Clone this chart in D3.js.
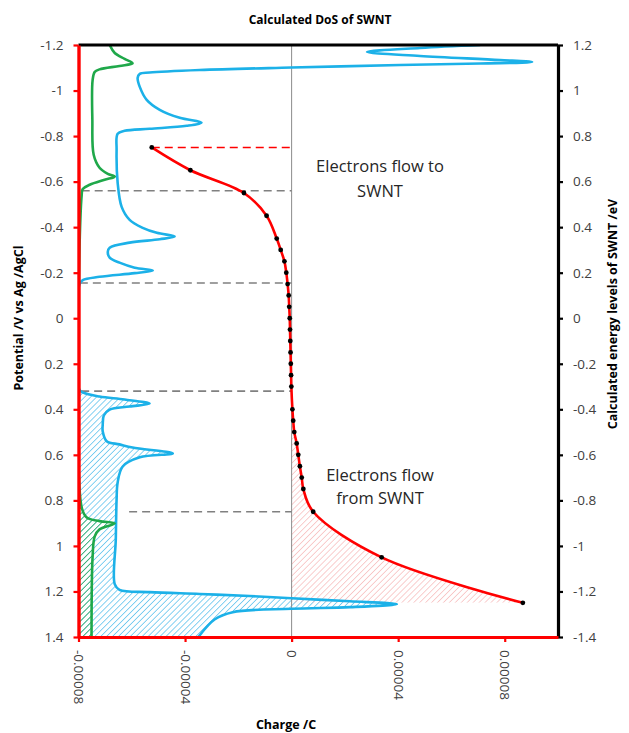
<!DOCTYPE html>
<html>
<head>
<meta charset="utf-8">
<script src="https://cdnjs.cloudflare.com/ajax/libs/d3/7.8.5/d3.min.js"></script>
<style>
  body { margin: 0; background: #fff; }
  text { font-family: "Open Sans", sans-serif; }
</style>
</head>
<body>
<script>
// axis ticks
var potTicks = [-1.2, -1, -0.8, -0.6, -0.4, -0.2, 0, 0.2, 0.4, 0.6, 0.8, 1, 1.2, 1.4];
var potLabels = ["-1.2", "-1", "-0.8", "-0.6", "-0.4", "-0.2", "0", "0.2", "0.4", "0.6", "0.8", "1", "1.2", "1.4"];
var energyLabels = ["1.2", "1", "0.8", "0.6", "0.4", "0.2", "0", "-0.2", "-0.4", "-0.6", "-0.8", "-1", "-1.2", "-1.4"];
var chargeTicks = [-0.00008, -0.00004, 0, 0.00004, 0.00008];
var chargeLabels = ["-0.00008", "-0.00004", "0", "0.00004", "0.00008"];

// measured charge (red, with dots)
var redPot = [-0.75, -0.65, -0.55, -0.45, -0.35, -0.30, -0.25, -0.20, -0.15, -0.10, -0.05, 0, 0.05, 0.10,
              0.15, 0.20, 0.25, 0.30, 0.40, 0.45, 0.50, 0.55, 0.60, 0.65, 0.70, 0.75, 0.85, 1.05, 1.25];
var redCharge = [-5.25e-5, -3.80e-5, -1.79e-5, -9.4e-6, -5.6e-6, -4.1e-6, -2.7e-6, -2.0e-6, -1.5e-6, -1.1e-6, -9e-7, -7e-7, -6e-7, -5e-7,
                 -4e-7, -3e-7, -2e-7, -1e-7, 3e-7, 6e-7, 1.0e-6, 1.9e-6, 2.5e-6, 3.1e-6, 3.8e-6, 4.4e-6, 8.1e-6, 3.38e-5, 8.68e-5];

// calculated DoS (blue)
var bluePot = [-1.200, -1.187, -1.169, -1.152, -1.134, -1.125, -1.119, -1.112, -1.101, -1.090, -1.079, -1.073, -1.055, -1.016,
               -0.959, -0.915, -0.880, -0.859, -0.845, -0.832, -0.823, -0.810, -0.739, -0.595, -0.489, -0.432, -0.397, -0.375,
               -0.359, -0.347, -0.332, -0.310, -0.292, -0.266, -0.244, -0.222, -0.210, -0.198, -0.182, -0.167, -0.147, 0.313,
               0.326, 0.344, 0.357, 0.375, 0.388, 0.401, 0.427, 0.467, 0.497, 0.540, 0.554, 0.568, 0.594, 0.611, 0.651, 0.721,
               0.796, 0.971, 1.168, 1.193, 1.203, 1.211, 1.220, 1.230, 1.243, 1.256, 1.269, 1.276, 1.291, 1.322, 1.400];
var blueDos = [7.08e-5, 4.82e-5, 2.83e-5, 4.82e-5, 7.83e-5, 9.03e-5, 7.08e-5, 4.07e-5, 0, -3.45e-5, -5.33e-5, -5.70e-5, -5.78e-5, -5.70e-5,
               -5.44e-5, -4.95e-5, -4.20e-5, -3.38e-5, -3.94e-5, -5.33e-5, -6.27e-5, -6.53e-5, -6.57e-5, -6.53e-5, -6.38e-5, -6.08e-5, -5.59e-5, -5.06e-5,
               -4.39e-5, -4.95e-5, -6.08e-5, -6.83e-5, -6.90e-5, -6.83e-5, -6.46e-5, -5.89e-5, -5.21e-5, -5.89e-5, -7.21e-5, -7.84e-5, -7.97e-5, -7.97e-5,
               -7.84e-5, -7.21e-5, -6.27e-5, -5.33e-5, -6.08e-5, -6.83e-5, -7.05e-5, -7.09e-5, -7.09e-5, -6.94e-5, -6.46e-5, -5.97e-5, -4.46e-5, -5.70e-5, -6.34e-5, -6.53e-5,
               -6.57e-5, -6.60e-5, -6.64e-5, -6.46e-5, -5.33e-5, -3.45e-5, -1.57e-5, 0, 2.19e-5, 3.95e-5, 2.19e-5, 0, -2.21e-5, -2.88e-5, -3.50e-5];

// calculated DoS (green)
var greenPot = [-1.2, -1.165, -1.139, -1.120, -1.108, -1.093, -1.082, -1.046, -0.871, -0.718, -0.661, -0.634, -0.622,
                -0.608, -0.586, -0.568, -0.542, 0.831, 0.875, 0.891, 0.901, 0.927, 0.958, 1.046, 1.4];
var greenDos = [-6.83e-5, -6.64e-5, -6.27e-5, -5.97e-5, -6.46e-5, -7.21e-5, -7.39e-5, -7.47e-5, -7.48e-5, -7.43e-5, -7.21e-5, -6.90e-5, -6.64e-5,
                -7.02e-5, -7.58e-5, -7.84e-5, -7.88e-5, -7.88e-5, -7.69e-5, -7.21e-5, -6.64e-5, -7.21e-5, -7.39e-5, -7.47e-5, -7.51e-5];

// dashed guide lines (potential, start charge)
var guidePot = [-0.56, -0.155, 0.32, 0.85];
var guideFrom = [-7.88e-5, -7.95e-5, -7.9e-5, -6.1e-5];
var redGuidePot = -0.75;

// shaded ranges
var blueFillFrom = 0.32, greenFillFrom = 0.1, redFillFrom = 0.3, redFillTo = 1.25;

var W = 629, H = 733;
var x = d3.scaleLinear().domain([-0.00008, 0.0001]).range([78.5, 558]);
var y = d3.scaleLinear().domain([-1.2, 1.4]).range([45, 637]);
var yR = d3.scaleLinear().domain([1.2, -1.4]).range([45, 637]);

var svg = d3.select("body").append("svg")
    .attr("width", W)
    .attr("height", H);

var defs = svg.append("defs");
function hatch(id, color) {
  var p = defs.append("pattern")
      .attr("id", id)
      .attr("patternUnits", "userSpaceOnUse")
      .attr("width", 4.2).attr("height", 4.2)
      .attr("patternTransform", "rotate(45)");
  p.append("line")
      .attr("x1", 0).attr("y1", 0).attr("x2", 0).attr("y2", 4.2)
      .attr("stroke", color).attr("stroke-width", 1.3);
}
hatch("hBlue", "#45b9ea");
hatch("hGreen", "#2ea84a");
hatch("hRed", "#f6b4b4");

function clipY(id, p0, p1) {
  defs.append("clipPath").attr("id", id).append("rect")
      .attr("x", x(-0.00008)).attr("width", x(0.0001) - x(-0.00008))
      .attr("y", y(p0)).attr("height", y(p1) - y(p0));
}
clipY("plotClip", -1.2, 1.4);
clipY("blueClip", blueFillFrom, 1.4);
clipY("greenClip", greenFillFrom, 1.4);
clipY("redClip", redFillFrom, redFillTo);

var blueData = bluePot.map(function(p, i) { return {p: p, v: blueDos[i]}; });
var greenData = greenPot.map(function(p, i) { return {p: p, v: greenDos[i]}; });
var redData = redPot.map(function(p, i) { return {p: p, v: redCharge[i]}; });

var curve = d3.curveCatmullRom.alpha(0.5);

function areaFrom(base) {
  return d3.area()
      .curve(curve)
      .y(function(d) { return y(d.p); })
      .x0(x(base))
      .x1(function(d) { return x(d.v); });
}
var line = d3.line()
    .curve(curve)
    .x(function(d) { return x(d.v); })
    .y(function(d) { return y(d.p); });

// hatched areas
svg.append("path").datum(blueData)
    .attr("clip-path", "url(#blueClip)")
    .attr("fill", "url(#hBlue)")
    .attr("d", areaFrom(-0.00008));
svg.append("path").datum(greenData)
    .attr("clip-path", "url(#greenClip)")
    .attr("fill", "url(#hGreen)")
    .attr("d", areaFrom(-0.00008));
svg.append("path").datum(redData)
    .attr("clip-path", "url(#redClip)")
    .attr("fill", "url(#hRed)")
    .attr("d", areaFrom(0));

// zero line
svg.append("line")
    .attr("x1", x(0)).attr("x2", x(0))
    .attr("y1", y(-1.2)).attr("y2", y(1.4))
    .attr("stroke", "#8c8c8c").attr("stroke-width", 1);

// dashed guides
svg.selectAll(".guide")
    .data(guidePot)
  .enter().append("line")
    .attr("class", "guide")
    .attr("x1", function(d, i) { return x(guideFrom[i]); })
    .attr("x2", x(0))
    .attr("y1", function(d) { return y(d); })
    .attr("y2", function(d) { return y(d); })
    .attr("stroke", "#808080")
    .attr("stroke-width", 1.6)
    .attr("stroke-dasharray", "8,5");
svg.append("line")
    .attr("x1", x(redCharge[0])).attr("x2", x(0))
    .attr("y1", y(redGuidePot)).attr("y2", y(redGuidePot))
    .attr("stroke", "#ff0000")
    .attr("stroke-width", 1.6)
    .attr("stroke-dasharray", "8,5");

// curves
var plot = svg.append("g").attr("clip-path", "url(#plotClip)");
plot.append("path").datum(blueData)
    .attr("fill", "none")
    .attr("stroke", "#1cb1e8")
    .attr("stroke-width", 2.6)
    .attr("d", line);
plot.append("path").datum(greenData)
    .attr("fill", "none")
    .attr("stroke", "#1fa84a")
    .attr("stroke-width", 2.6)
    .attr("d", line);
plot.append("path").datum(redData)
    .attr("fill", "none")
    .attr("stroke", "#ff0000")
    .attr("stroke-width", 2.6)
    .attr("d", line);
plot.selectAll(".dot")
    .data(redData)
  .enter().append("circle")
    .attr("class", "dot")
    .attr("cx", function(d) { return x(d.v); })
    .attr("cy", function(d) { return y(d.p); })
    .attr("r", 2.4)
    .attr("fill", "#000");

// axes
function styleAxis(g, color, width) {
  g.attr("font-family", "Open Sans, sans-serif").attr("font-size", 13.5);
  g.select(".domain").attr("stroke", color).attr("stroke-width", width);
  g.selectAll(".tick line").attr("stroke", color).attr("stroke-width", 2.2);
  g.selectAll(".tick text").attr("fill", "#404040");
}

// top frame
svg.append("line")
    .attr("x1", x(-0.00008)).attr("x2", x(0.0001))
    .attr("y1", y(-1.2)).attr("y2", y(-1.2))
    .attr("stroke", "#000").attr("stroke-width", 3);

svg.append("g")
    .attr("transform", "translate(" + x(0.0001) + ",0)")
    .call(d3.axisRight(yR).tickValues(potTicks.map(function(d) { return -d; }))
        .tickFormat(function(d, i) { return energyLabels[i]; })
        .tickSize(5).tickSizeOuter(0).tickPadding(10))
    .call(function(g) { styleAxis(g, "#000", 3.2); });

svg.append("g")
    .attr("transform", "translate(0," + y(1.4) + ")")
    .call(d3.axisBottom(x).tickValues(chargeTicks)
        .tickFormat(function(d, i) { return chargeLabels[i]; })
        .tickSize(5).tickSizeOuter(0))
    .call(function(g) { styleAxis(g, "#ff0000", 3.2); })
    .call(function(g) {
      g.selectAll(".tick text")
          .attr("transform", "rotate(90)")
          .attr("x", 13).attr("y", 0).attr("dy", "0.35em")
          .style("text-anchor", "start");
    });

svg.append("g")
    .attr("transform", "translate(" + x(-0.00008) + ",0)")
    .call(d3.axisLeft(y).tickValues(potTicks)
        .tickFormat(function(d, i) { return potLabels[i]; })
        .tickSize(5).tickSizeOuter(0).tickPadding(10))
    .call(function(g) { styleAxis(g, "#ff0000", 3.4); });

// titles
svg.append("text")
    .attr("x", 320).attr("y", 24)
    .attr("text-anchor", "middle")
    .style("font-size", "12px").style("font-weight", "bold")
    .attr("fill", "#000")
    .text("Calculated DoS of SWNT");

svg.append("text")
    .attr("x", 286).attr("y", 729)
    .attr("text-anchor", "middle")
    .style("font-size", "12.5px").style("font-weight", "bold")
    .text("Charge /C");

svg.append("text")
    .attr("transform", "translate(23,318) rotate(-90)")
    .attr("text-anchor", "middle")
    .style("font-size", "12.5px").style("font-weight", "bold")
    .text("Potential /V vs Ag /AgCl");

svg.append("text")
    .attr("transform", "translate(617,314) rotate(-90)")
    .attr("text-anchor", "middle")
    .style("font-size", "12.5px").style("font-weight", "bold")
    .text("Calculated energy levels of SWNT /eV");

// annotations
var note = svg.append("g").attr("fill", "#262626").style("font-size", "16.5px");
note.append("text").attr("x", 380).attr("y", 172).attr("text-anchor", "middle").text("Electrons flow to");
note.append("text").attr("x", 380).attr("y", 197).attr("text-anchor", "middle").text("SWNT");
note.append("text").attr("x", 380).attr("y", 481).attr("text-anchor", "middle").text("Electrons flow");
note.append("text").attr("x", 380).attr("y", 504).attr("text-anchor", "middle").text("from SWNT");
</script>
</body>
</html>
